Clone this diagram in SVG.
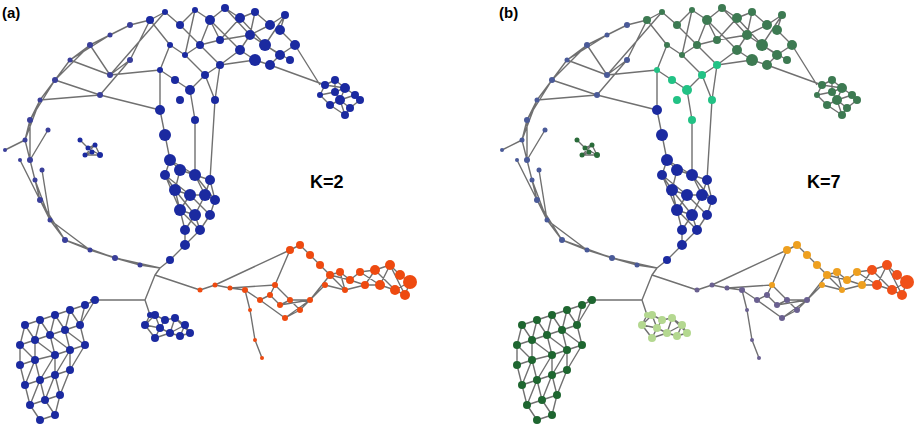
<svg xmlns="http://www.w3.org/2000/svg" xmlns:xlink="http://www.w3.org/1999/xlink" width="922" height="439" viewBox="0 0 922 439">
<style>
.e{fill:none;stroke:#707070;stroke-width:1.4;stroke-linejoin:round}
.n circle{stroke:#333;stroke-width:0.6}
.t{font-family:"Liberation Sans",Arial,sans-serif;font-weight:bold;fill:#000}
</style>
<defs>
<g id="edges">
<path class="e" d="M150,20 L165,12 L180,25 L195,10 L210,20 L225,8 L240,18 L255,12 L270,25 L285,15 L280,30 L295,45 L280,55 L265,45 L250,35 L240,50 L255,60 L270,65 L280,55 M150,20 L170,45 L185,55 L200,45 L220,40 L240,18 M180,25 L200,45 L210,20 L220,40 L250,35 L255,12 M160,70 L175,80 L190,90 L205,75 L220,65 L240,50 M170,45 L160,70 M185,55 L205,75 M200,45 L220,65 L255,60 M265,45 L285,15 M225,8 L250,35 L270,25 M195,10 L185,55 M240,18 L265,45 L290,60 M210,20 L240,50"/>
<path class="e" d="M150,20 L130,25 L110,35 L90,45 L70,60 L55,80 L40,100 L30,120 L25,140 L30,160 L35,180 L40,200 L50,220 L65,240 L90,250 L115,258 L140,265 L160,268 M130,25 L90,45 L55,80 L30,120 L30,160 L40,200 L65,240 L115,258 L160,268 M110,35 L70,60 L40,100 L25,140 L35,180 L50,220 L90,250 L140,265 M90,45 L110,75 L130,60 L150,20 M70,60 L110,75 L160,70 M55,80 L100,95 L130,60 M40,100 L100,95 L160,110 M5,150 L25,140 M20,160 L40,200 M30,120 L55,80 M110,75 L165,12 M48,130 L30,160 M42,170 L50,220"/>
<path class="e" d="M80,140 L88,148 L95,145 L100,155 L85,155 L92,152 L80,140 M88,148 L100,155 M95,145 L85,155"/>
<path class="e" d="M295,45 L320,85 M270,65 L325,85 M325,85 L335,80 L345,88 L355,95 L360,100 L350,108 L345,115 L330,105 L320,95 L325,85 L345,88 L340,100 L350,108 M335,80 L335,92 L340,100 L330,105 M355,95 L340,100 L345,115 M320,95 L335,92 L345,88"/>
<path class="e" d="M160,70 L160,110 L165,135 L170,160 L165,175 L175,190 L180,210 L185,230 L185,245 L170,260 L160,268 M190,90 L195,120 L195,175 L210,180 L215,200 L210,215 L200,230 L185,245 M170,160 L180,170 L195,175 L205,195 L195,215 L185,230 M165,175 L190,195 L210,215 M180,170 L175,190 L190,195 L205,195 L215,200 M210,180 L205,195 L195,215 L180,210 L190,195 M200,230 L195,215 M210,180 L180,170 M205,75 L215,100 L210,180 M220,65 L215,100 M165,175 L180,210 L200,230 M175,190 L195,215 M195,175 L215,200 M170,160 L195,175"/>
<path class="e" d="M160,268 L155,275 L145,300 L90,300 M145,300 L150,315 M155,275 L200,290 L215,285 L230,288 L245,290 L260,300 L270,295 L280,305 L290,300 L300,310 L285,318 L260,300 M270,295 L275,285 L290,300 L310,300 L325,285 L345,290 L365,285 L380,285 L395,290 L405,295 L410,282 L400,275 L390,265 L375,270 L360,272 L350,280 L340,272 L330,275 L320,265 L310,255 L300,245 L290,250 L275,285 M300,310 L310,300 L330,275 M310,255 L330,275 L350,280 L365,285 L375,270 L395,290 L410,282 M340,272 L345,290 M360,272 L380,285 L390,265 L405,295 M215,285 L290,250 M230,288 L275,285 M320,265 L345,290 M245,290 L250,310 L255,340 L262,358 M280,305 L310,300 M285,318 L310,300"/>
<path class="e" d="M25,325 L40,320 L55,315 L70,310 L85,305 L95,300 L90,300 M20,345 L35,340 L50,335 L65,330 L80,325 M20,365 L35,360 L55,355 L70,350 L85,345 M25,385 L40,380 L55,375 L70,370 M30,405 L45,400 L60,395 M40,420 L55,415 M25,325 L20,345 L20,365 L25,385 L30,405 L40,420 M40,320 L35,340 L35,360 L40,380 L45,400 L55,415 M55,315 L50,335 L55,355 L55,375 L60,395 L55,415 M70,310 L65,330 L70,350 L70,370 L60,395 M85,305 L80,325 L85,345 L70,370 M95,300 L80,325 M40,320 L50,335 L70,350 L55,375 L45,400 M25,325 L35,340 L55,355 L40,380 L30,405 M55,315 L65,330 L85,345 M20,345 L35,360 L25,385 M70,310 L80,325"/>
<path class="e" d="M150,315 L145,325 L155,315 L165,320 L175,318 L185,325 L190,333 L180,336 L170,333 L155,338 L145,325 L160,328 L165,320 M160,328 L170,333 L175,318 M155,315 L160,328 L155,338 M180,336 L185,325 L170,333 M175,318 L190,333"/>
</g>
<g id="top"><circle cx="150" cy="20" r="4"/><circle cx="165" cy="12" r="3"/><circle cx="180" cy="25" r="4"/><circle cx="195" cy="10" r="3"/><circle cx="210" cy="20" r="5"/><circle cx="225" cy="8" r="4"/><circle cx="240" cy="18" r="5"/><circle cx="255" cy="12" r="4"/><circle cx="270" cy="25" r="5"/><circle cx="285" cy="15" r="4"/><circle cx="250" cy="35" r="5"/><circle cx="265" cy="45" r="6"/><circle cx="280" cy="55" r="5"/><circle cx="240" cy="50" r="5"/><circle cx="255" cy="60" r="6"/><circle cx="220" cy="40" r="4"/><circle cx="200" cy="45" r="4"/><circle cx="185" cy="55" r="3"/><circle cx="170" cy="45" r="3"/><circle cx="280" cy="30" r="5"/><circle cx="295" cy="45" r="5"/><circle cx="270" cy="65" r="5"/><circle cx="290" cy="60" r="4"/></g>
<g id="mid2"><circle cx="160" cy="70" r="3"/><circle cx="175" cy="80" r="4"/><circle cx="190" cy="90" r="5"/><circle cx="205" cy="75" r="4"/><circle cx="220" cy="65" r="4"/><circle cx="215" cy="100" r="4"/><circle cx="195" cy="120" r="4"/><circle cx="180" cy="100" r="4"/></g>
<g id="arc"><circle cx="130" cy="25" r="3"/><circle cx="110" cy="35" r="2.5"/><circle cx="90" cy="45" r="3"/><circle cx="70" cy="60" r="2.5"/><circle cx="55" cy="80" r="3"/><circle cx="40" cy="100" r="2.5"/><circle cx="30" cy="120" r="3"/><circle cx="25" cy="140" r="2.5"/><circle cx="30" cy="160" r="3"/><circle cx="35" cy="180" r="2.5"/><circle cx="40" cy="200" r="3"/><circle cx="50" cy="220" r="2.5"/><circle cx="65" cy="240" r="3"/><circle cx="90" cy="250" r="2.5"/><circle cx="115" cy="258" r="3"/><circle cx="140" cy="265" r="2.5"/><circle cx="110" cy="75" r="3"/><circle cx="130" cy="60" r="3"/><circle cx="100" cy="95" r="3"/><circle cx="5" cy="150" r="2"/><circle cx="20" cy="160" r="2"/><circle cx="48" cy="130" r="2.5"/><circle cx="42" cy="170" r="2.5"/></g>
<g id="tri"><circle cx="80" cy="140" r="2.5"/><circle cx="88" cy="148" r="2.5"/><circle cx="95" cy="145" r="2.5"/><circle cx="100" cy="155" r="3"/><circle cx="85" cy="155" r="2.5"/><circle cx="92" cy="152" r="2.5"/></g>
<g id="right"><circle cx="325" cy="85" r="4"/><circle cx="335" cy="80" r="4"/><circle cx="345" cy="88" r="5"/><circle cx="355" cy="95" r="4"/><circle cx="340" cy="100" r="5"/><circle cx="330" cy="105" r="4"/><circle cx="350" cy="108" r="4"/><circle cx="360" cy="100" r="4"/><circle cx="345" cy="115" r="4"/><circle cx="320" cy="95" r="3"/><circle cx="335" cy="92" r="4"/></g>
<g id="mid"><circle cx="160" cy="110" r="5"/><circle cx="165" cy="135" r="6"/><circle cx="170" cy="160" r="6"/><circle cx="165" cy="175" r="5"/><circle cx="180" cy="170" r="6"/><circle cx="195" cy="175" r="6"/><circle cx="210" cy="180" r="5"/><circle cx="175" cy="190" r="6"/><circle cx="190" cy="195" r="6"/><circle cx="205" cy="195" r="6"/><circle cx="215" cy="200" r="5"/><circle cx="180" cy="210" r="6"/><circle cx="195" cy="215" r="6"/><circle cx="210" cy="215" r="5"/><circle cx="185" cy="230" r="5"/><circle cx="200" cy="230" r="5"/><circle cx="185" cy="245" r="5"/><circle cx="170" cy="260" r="4"/></g>
<g id="or1"><circle cx="200" cy="290" r="2.5"/><circle cx="215" cy="285" r="2.5"/><circle cx="230" cy="288" r="2.5"/><circle cx="245" cy="290" r="3"/><circle cx="260" cy="300" r="3"/><circle cx="270" cy="295" r="3"/><circle cx="280" cy="305" r="3"/><circle cx="290" cy="300" r="3"/><circle cx="300" cy="310" r="3"/><circle cx="285" cy="318" r="3"/><circle cx="310" cy="300" r="3"/><circle cx="250" cy="310" r="2"/><circle cx="255" cy="340" r="2"/><circle cx="262" cy="358" r="2"/></g>
<g id="or2"><circle cx="275" cy="285" r="3"/><circle cx="290" cy="250" r="4"/><circle cx="300" cy="245" r="4"/><circle cx="310" cy="255" r="4"/><circle cx="320" cy="265" r="4"/><circle cx="330" cy="275" r="4"/><circle cx="340" cy="272" r="4"/><circle cx="350" cy="280" r="4"/><circle cx="360" cy="272" r="4"/><circle cx="345" cy="290" r="3"/><circle cx="325" cy="285" r="3"/><circle cx="365" cy="285" r="4"/></g>
<g id="or3"><circle cx="375" cy="270" r="5"/><circle cx="390" cy="265" r="5"/><circle cx="400" cy="275" r="5"/><circle cx="410" cy="282" r="7"/><circle cx="395" cy="290" r="5"/><circle cx="380" cy="285" r="5"/><circle cx="405" cy="295" r="5"/></g>
<g id="bl"><circle cx="25" cy="325" r="4"/><circle cx="40" cy="320" r="4"/><circle cx="55" cy="315" r="4"/><circle cx="70" cy="310" r="4"/><circle cx="85" cy="305" r="4"/><circle cx="95" cy="300" r="4"/><circle cx="20" cy="345" r="4"/><circle cx="35" cy="340" r="4"/><circle cx="50" cy="335" r="4"/><circle cx="65" cy="330" r="4"/><circle cx="80" cy="325" r="4"/><circle cx="20" cy="365" r="4"/><circle cx="35" cy="360" r="4"/><circle cx="55" cy="355" r="4"/><circle cx="70" cy="350" r="4"/><circle cx="85" cy="345" r="4"/><circle cx="25" cy="385" r="4"/><circle cx="40" cy="380" r="4"/><circle cx="55" cy="375" r="4"/><circle cx="70" cy="370" r="4"/><circle cx="30" cy="405" r="4"/><circle cx="45" cy="400" r="4"/><circle cx="60" cy="395" r="4"/><circle cx="40" cy="420" r="4"/><circle cx="55" cy="415" r="4"/></g>
<g id="sm"><circle cx="150" cy="315" r="3"/><circle cx="145" cy="325" r="4"/><circle cx="155" cy="315" r="4"/><circle cx="165" cy="320" r="4"/><circle cx="175" cy="318" r="4"/><circle cx="185" cy="325" r="4"/><circle cx="190" cy="333" r="4"/><circle cx="170" cy="333" r="4"/><circle cx="155" cy="338" r="4"/><circle cx="160" cy="328" r="4"/><circle cx="180" cy="336" r="4"/></g>
</defs>
<rect width="922" height="439" fill="#fff"/>
<g id="panel-a">
<use xlink:href="#edges"/>
<g class="n" fill="#1b2aa0"><use xlink:href="#top"/><use xlink:href="#mid2"/><use xlink:href="#right"/><use xlink:href="#mid"/><use xlink:href="#bl"/><use xlink:href="#sm"/><use xlink:href="#tri"/></g>
<g class="n" fill="#3a3f9a"><use xlink:href="#arc"/></g>
<g class="n" fill="#ee4a10"><use xlink:href="#or1"/><use xlink:href="#or2"/><use xlink:href="#or3"/></g>
<text class="t" x="2" y="18" font-size="15">(a)</text>
<text class="t" x="310" y="188" font-size="18">K=2</text>
</g>
<g id="panel-b" transform="translate(497,0)">
<use xlink:href="#edges"/>
<g class="n" fill="#3d7a52"><use xlink:href="#top"/><use xlink:href="#right"/></g>
<g class="n" fill="#22c285"><use xlink:href="#mid2"/></g>
<g class="n" fill="#4a5a98"><use xlink:href="#arc"/></g>
<g class="n" fill="#2a6b3a"><use xlink:href="#tri"/></g>
<g class="n" fill="#1b2aa0"><use xlink:href="#mid"/></g>
<g class="n" fill="#6a6090"><use xlink:href="#or1"/></g>
<g class="n" fill="#eea020"><use xlink:href="#or2"/></g>
<g class="n" fill="#f05018"><use xlink:href="#or3"/></g>
<g class="n" fill="#1e6630"><use xlink:href="#bl"/></g>
<g class="n" fill="#b4d890"><use xlink:href="#sm"/></g>
<text class="t" x="2" y="18" font-size="15">(b)</text>
<text class="t" x="310" y="188" font-size="18">K=7</text>
</g>
</svg>
